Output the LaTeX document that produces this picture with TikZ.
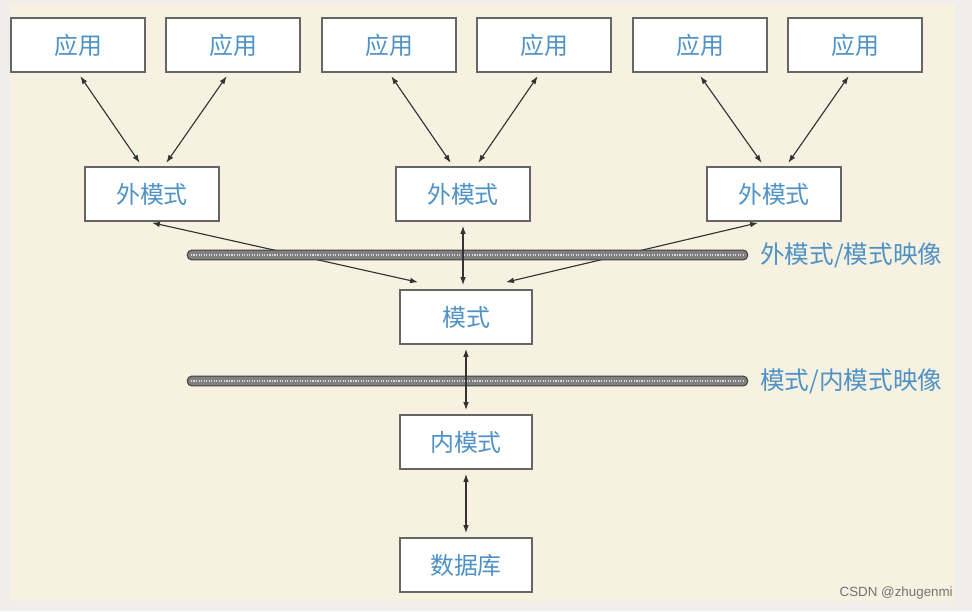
\documentclass[tikz,border=0pt]{standalone}
\usepackage{fontspec}
\setmainfont{Noto Sans CJK SC}
\newfontfamily\wmfont{Liberation Sans}
\usepackage{xcolor}
\usepackage{tikz}
\usetikzlibrary{arrows.meta,positioning}
\definecolor{paper}{HTML}{F7F1E2}
\definecolor{frame}{HTML}{EFEEEB}
\definecolor{ink}{HTML}{4F92C6}

\begin{document}
\begin{tikzpicture}[x=0.025cm, y=-0.025cm,
  box/.style={draw=black!60, fill=white, line width=1.2pt, minimum width=3.35cm,
              minimum height=1.35cm, inner sep=0pt, text=ink,
              font=\fontsize{17pt}{20pt}\selectfont},
  mid/.style={box, minimum width=3.3cm},
  bar/.style={draw=black!75, fill=black!50, rounded corners=1mm, line width=0.7pt,
              minimum width=14.0cm, minimum height=2.4mm, inner sep=0pt},
  rope/.style={white!85!black, line width=1pt, dash pattern=on 0.8pt off 1pt,
               shorten <=1mm, shorten >=1mm},
  lbl/.style={text=ink, font=\fontsize{17.5pt}{21pt}\selectfont, inner sep=0pt},
  arr/.style={{Latex[length=2mm,width=1.4mm]}-{Latex[length=2mm,width=1.4mm]},
              line width=0.8pt, black!80, shorten <=1mm, shorten >=1mm}]

% 底色与边框
\fill[frame] (0,0) rectangle (972,611);
\fill[paper] (10,4) rectangle (955,601);

% 应用层(上)
\node[box] (a1) at (78,45)  {应用};
\node[box] (a2) at (233,45) {应用};
\node[box] (a3) at (389,45) {应用};
\node[box] (a4) at (544,45) {应用};
\node[box] (a5) at (700,45) {应用};
\node[box] (a6) at (855,45) {应用};

% 外模式
\node[box] (e1) at (152,194) {外模式};
\node[box] (e2) at (463,194) {外模式};
\node[box] (e3) at (774,194) {外模式};

% 模式 / 内模式 / 数据库
\node[mid] (m)  at (466,317) {模式};
\node[mid] (im) at (466,442) {内模式};
\node[mid] (db) at (466,565) {数据库};

% 应用 -- 外模式
\draw[arr] (a1.south) -- ([xshift=-2.5mm]e1.north);
\draw[arr] ([xshift=-1mm]a2.south) -- ([xshift=3mm]e1.north);
\draw[arr] (a3.south) -- ([xshift=-2.5mm]e2.north);
\draw[arr] ([xshift=-1mm]a4.south) -- ([xshift=3.25mm]e2.north);
\draw[arr] ([xshift=-0.5mm]a5.south) -- ([xshift=-2.5mm]e3.north);
\draw[arr] ([xshift=-1mm]a6.south) -- ([xshift=3mm]e3.north);

% 外模式 -- 模式(斜线压在映像条下面)
\draw[arr] ([xshift=-1mm]e1.south) -- ([xshift=-1.1cm,yshift=1.5mm]m.north);
\draw[arr] ([xshift=-3mm]e3.south) -- ([xshift=9mm,yshift=1.5mm]m.north);

% 两条映像条 + 右侧说明
\node[bar] (b1) at (467.5,255) {};
\draw[rope] (b1.west) -- (b1.east);
\node[lbl, right=3mm of b1] (l1) {外模式/模式映像};
\node[bar] (b2) at (467.5,381) {};
\draw[rope] (b2.west) -- (b2.east);
\node[lbl, right=3mm of b2] (l2) {模式/内模式映像};

% 竖直连线
\draw[arr] (e2.south) -- (e2.south |- m.north);
\draw[arr] (m.south) -- (im.north);
\draw[arr] (im.south) -- (db.north);

% 水印
\node[text=black!55, font=\wmfont\fontsize{9.5pt}{11pt}\selectfont, anchor=east,
      inner sep=0pt] (wm) at (953,593) {CSDN @zhugenmi};
\end{tikzpicture}
\end{document}
